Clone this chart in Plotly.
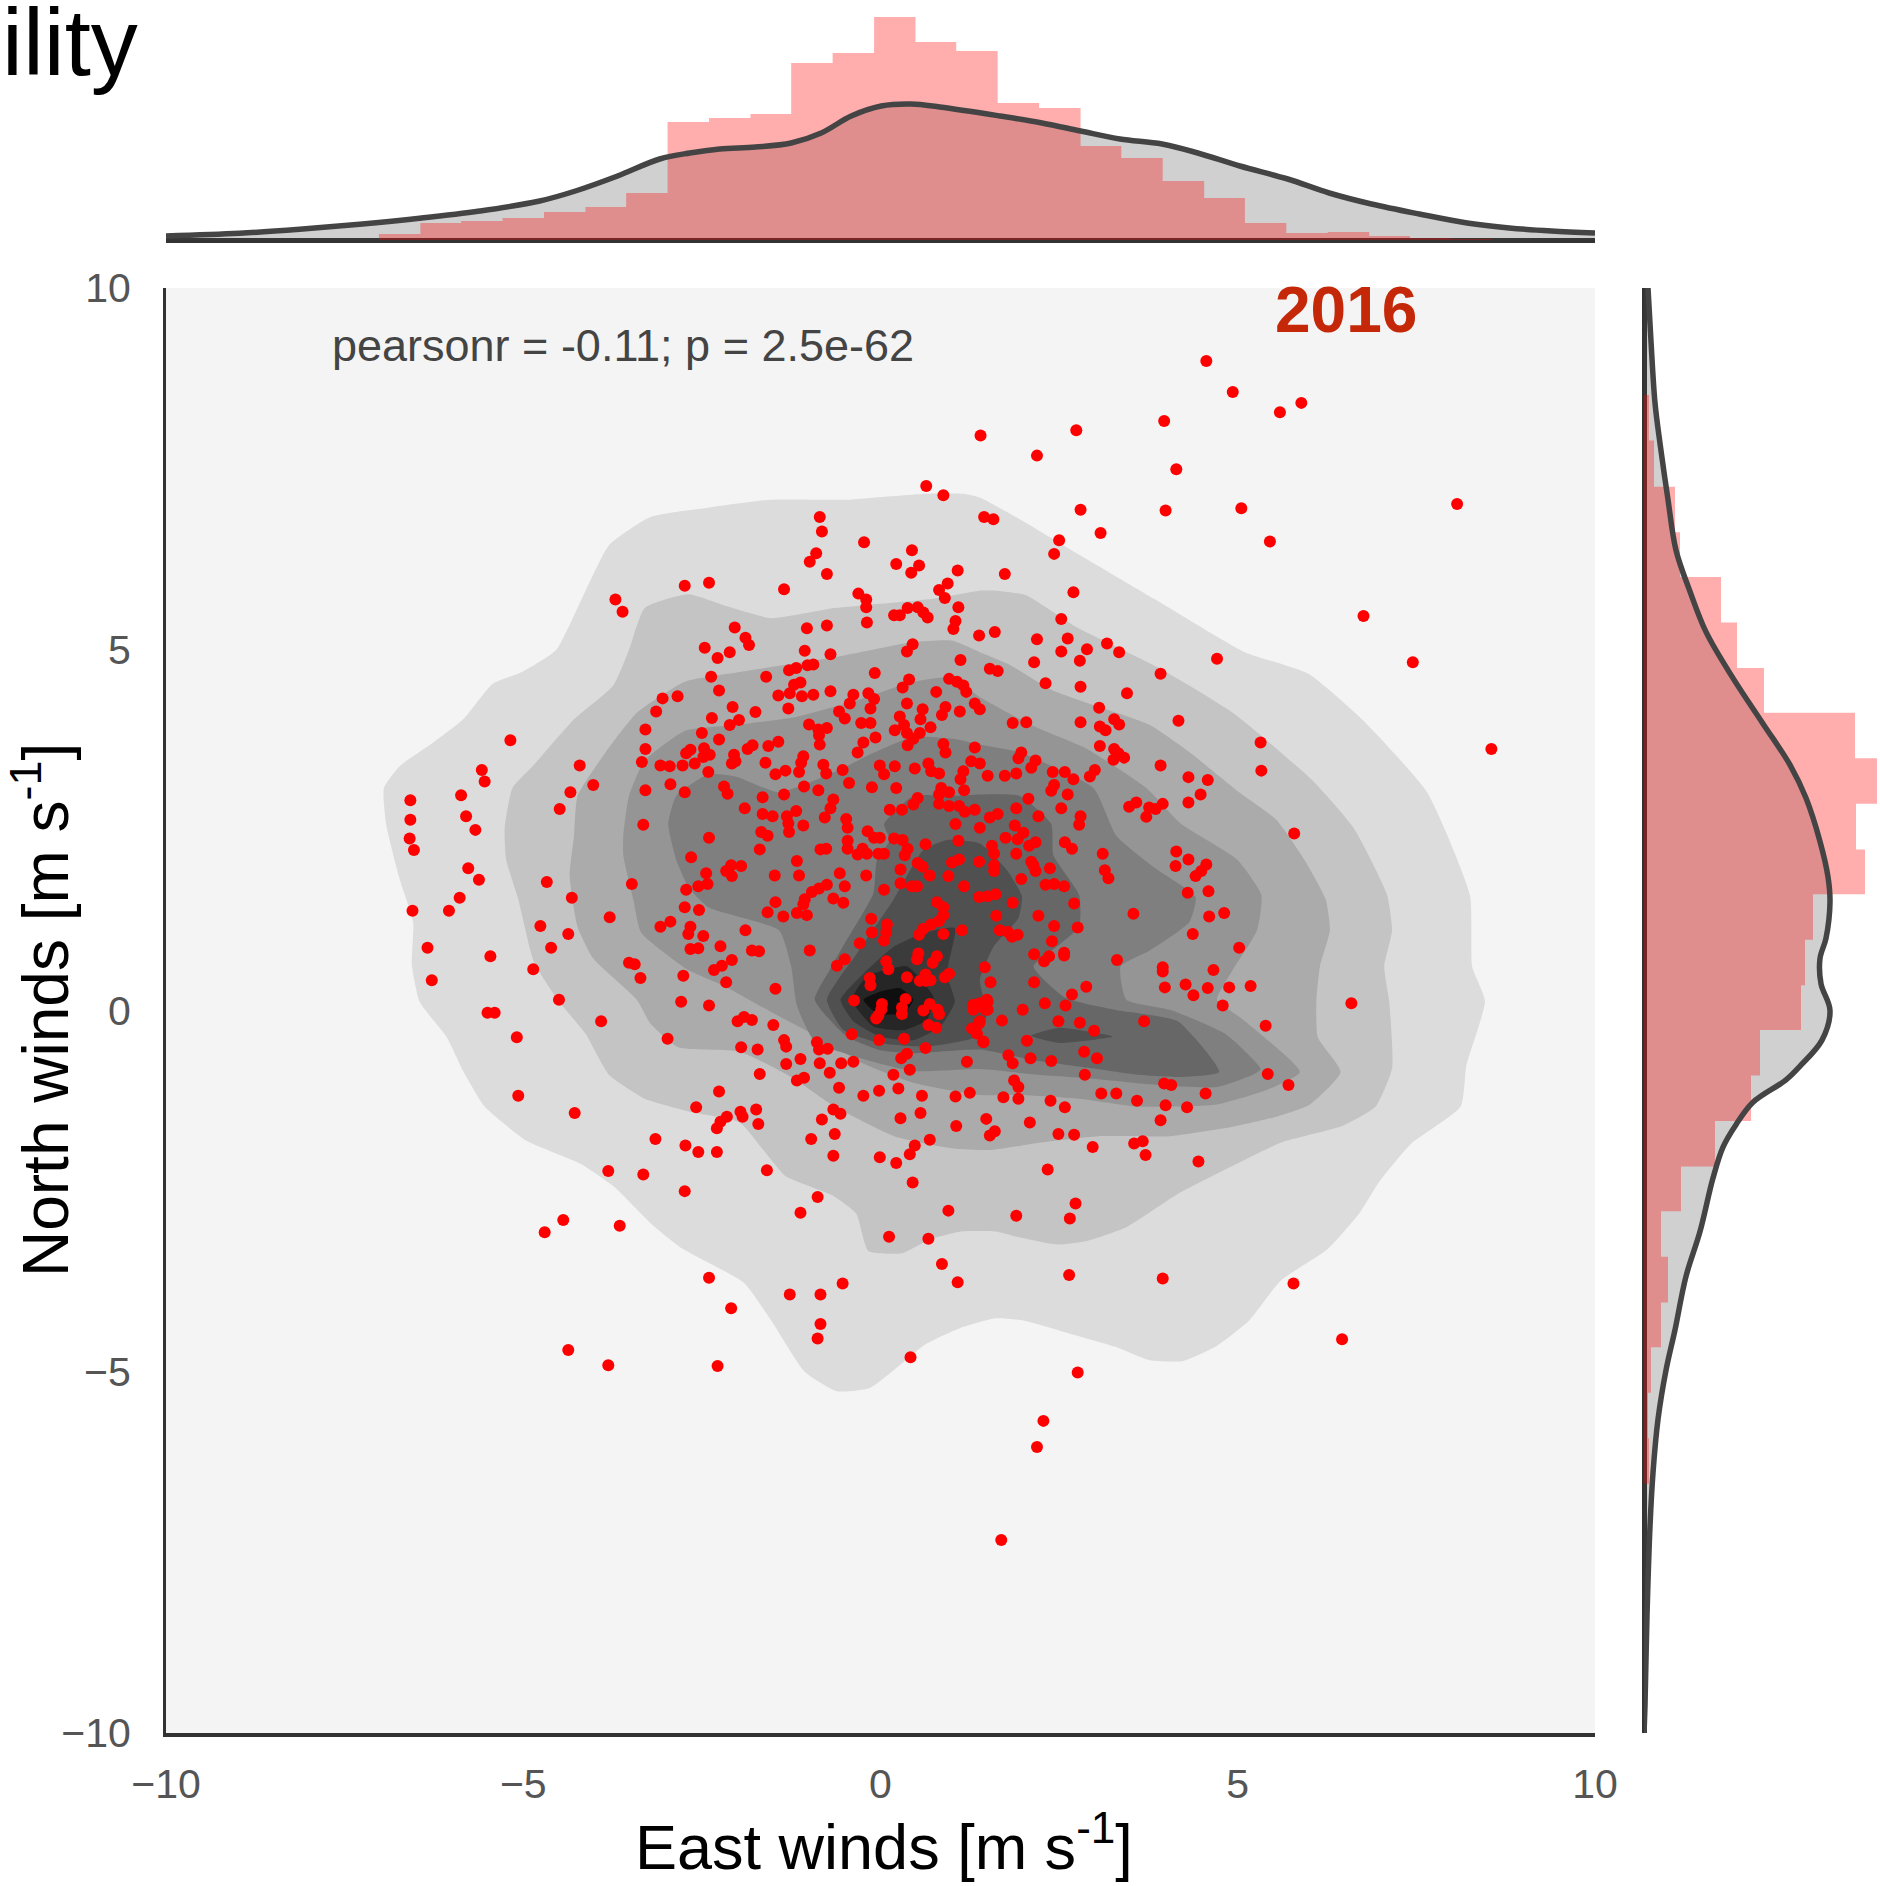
import plotly.graph_objects as go

W, H = 1880, 1886

# ------------------------- DATA -------------------------
tick_values = [-10, -5, 0, 5, 10]
tick_labels = ["\u221210", "\u22125", "0", "5", "10"]

# East / North wind samples (m/s)
wind_points = [
(0.64,7.26),(0.88,7.13),(-0.85,6.83),(-0.82,6.63),(-0.23,6.48),(0.44,6.37),(-0.90,6.33),(-0.99,6.21),(0.22,6.18),(0.54,6.16),
(0.43,6.06),(1.08,6.09),(-0.75,6.04),(0.94,5.91),(0.82,5.82),(0.90,5.71),(-1.35,5.83),(-2.40,5.92),(-2.74,5.88),(-3.71,5.69),
(-3.61,5.52),(-0.31,5.77),(-0.20,5.69),(-0.20,5.58),(1.09,5.58),(0.19,5.47),(0.38,5.57),(0.52,5.58),(0.60,5.51),(0.66,5.44),
(0.27,5.47),(-0.19,5.37),(1.05,5.39),(1.02,5.28),(-0.75,5.33),(-1.03,5.29),(-2.04,5.30),(-1.89,5.16),(-1.84,5.06),(1.38,5.19),
(0.45,5.07),(0.37,4.97),(-2.46,5.02),(-2.11,4.96),(-2.28,4.88),(-1.06,4.98),(-0.70,4.93),(1.12,4.85),(-0.94,4.79),(-1.02,4.78),
(-1.18,4.74),(-1.28,4.71),(-0.08,4.67),(-2.37,4.62),(-1.60,4.62),(0.40,4.58),(0.31,4.47),(0.96,4.59),(1.07,4.55),(1.16,4.50),
(1.20,4.41),(-1.12,4.54),(-1.21,4.51),(-2.26,4.43),(-0.70,4.42),(0.78,4.41),(-1.27,4.39),(-1.43,4.36),(-1.10,4.35),(-0.94,4.37),
(-0.17,4.39),(-0.09,4.31),(-0.38,4.37),(-0.43,4.25),(-3.05,4.32),(-2.84,4.35),(0.37,4.25),(1.32,4.25),(-0.14,4.18),(-2.07,4.20),
(-1.29,4.18),(0.91,4.20),(0.86,4.09),(1.11,4.14),(0.59,4.17),(0.56,4.03),(-0.58,4.14),(-0.50,4.04),(-3.14,4.14),(-1.75,4.13),
(0.27,4.07),(-2.36,4.05),(-1.98,4.02),(-2.11,3.95),(-0.27,3.98),(-0.14,3.98),(-1.00,3.96),(-0.75,3.91),(-0.87,3.89),(0.33,3.95),
(0.37,3.84),(0.70,3.92),(0.20,3.88),(0.55,3.84),(0.46,3.76),(0.38,3.67),(-3.29,3.89),(-2.50,3.84),(-0.07,3.78),(-2.26,3.75),
(-0.86,3.81),(-0.85,3.68),(-1.43,3.72),(-1.57,3.66),(-0.24,3.71),(-0.32,3.57),(0.88,3.69),(0.91,3.57),(1.32,3.64),(-1.79,3.67),
(-1.86,3.62),(-2.66,3.61),(-2.72,3.56),(-2.47,3.63),(-2.39,3.54),(-2.48,3.51),(-2.60,3.42),(-2.77,3.39),(-3.29,3.62),(-2.05,3.54),
(-2.03,3.45),(-2.08,3.42),(-1.08,3.52),(-1.11,3.43),(-3.34,3.44),(-3.08,3.39),(-2.95,3.38),(-1.61,3.43),(-0.80,3.40),(-0.76,3.28),
(-0.01,3.39),(0.05,3.27),(0.20,3.38),(0.48,3.35),(0.67,3.42),(0.71,3.31),(0.82,3.28),(1.16,3.31),(1.12,3.20),(1.27,3.45),
(-0.53,3.33),(-1.14,3.30),(-1.33,3.32),(-1.47,3.27),(-2.41,3.30),(-0.44,3.15),(-2.94,3.13),(-2.19,3.10),(-2.14,3.00),(-3.29,3.05),
(-2.74,3.02),(-1.07,3.10),(-0.87,3.05),(-0.12,3.09),(0.22,3.08),(0.85,3.08),(0.96,3.02),(0.82,2.99),(0.82,2.86),(0.96,2.83),
(1.17,3.05),(-1.35,2.99),(-1.65,2.95),(-0.66,2.92),(-0.70,2.80),(-0.78,2.67),(0.52,2.94),(0.46,2.85),(-1.90,2.80),(0.13,2.78),
(0.30,2.78),(1.10,2.83),(1.18,2.75),(1.32,2.78),(-1.65,2.72),(-1.51,2.69),(-1.18,2.76),(-1.31,2.69),(-1.29,2.59),(-1.28,2.47),
(-1.08,2.56),(-0.48,2.65),(-0.46,2.53),(-3.32,2.57),(1.05,2.58),(1.39,2.53),(-0.18,2.48),(-0.09,2.39),(-0.01,2.39),(-1.67,2.47),
(-1.58,2.42),(-2.40,2.39),(0.19,2.38),(0.31,2.36),(1.09,2.35),(-0.46,2.35),(-0.46,2.24),(0.63,2.30),(-0.76,2.24),(-0.84,2.23),
(0.38,2.24),(0.34,2.15),(-1.69,2.23),(-0.25,2.24),(-0.32,2.16),(-0.19,2.17),(-0.03,2.17),(0.05,2.17),(-2.65,2.12),(-1.17,2.07),
(1.10,2.09),(1.00,2.05),(1.38,2.06),(-1.95,2.00),(-2.09,2.01),(-2.16,1.93),(-2.08,1.86),(0.52,2.04),(0.59,1.99),(0.28,1.95),
(0.69,1.87),(0.95,1.86),(-2.44,1.90),(-1.48,1.87),(-1.14,1.87),(-0.57,1.90),(-0.20,1.87),(-4.67,1.78),(-3.48,1.75),(-0.50,1.72),
(0.28,1.76),(0.44,1.72),(0.51,1.72),(1.17,1.72),(-2.42,1.75),(-2.55,1.72),(-2.72,1.67),(-0.75,1.74),(-0.86,1.69),(-0.96,1.64),
(0.05,1.67),(-4.32,1.56),(-5.89,1.56),(1.38,1.57),(-1.06,1.54),(-1.08,1.47),(-0.66,1.55),(-0.52,1.49),(-1.47,1.50),(0.79,1.50),
(0.88,1.43),(0.88,1.32),(0.82,1.24),(0.71,1.19),(0.60,1.13),(0.54,1.05),(0.88,1.06),(-2.74,1.43),(-2.54,1.39),(-6.55,1.38),
(-6.04,1.38),(-1.58,1.36),(-1.36,1.30),(-1.17,1.35),(-1.03,1.32),(-3.79,1.29),(-0.13,1.27),(-2.94,1.23),(-3.08,1.16),(-4.76,1.17),
(1.14,1.11),(-2.66,1.16),(-2.69,1.06),(-1.89,1.11),(-0.12,1.08),(-4.37,1.06),(-2.48,1.03),(0.09,1.19),(0.08,1.08),(0.05,0.97),
(-0.29,0.93),(-6.34,0.87),(-4.61,0.87),(-2.66,0.85),(-2.55,0.86),(-2.24,0.89),(-1.80,0.83),(-1.70,0.82),(-0.99,0.83),(-5.46,0.75),
(0.53,0.79),(0.51,0.71),(0.79,0.75),(0.73,0.66),(0.08,0.68),(0.11,0.57),(-0.50,0.71),(-0.61,0.62),(-2.08,0.70),(-2.22,0.62),
(-2.33,0.56),(-3.52,0.66),(-3.44,0.64),(-4.86,0.57),(-3.36,0.45),(-2.76,0.48),(0.96,0.51),(0.90,0.46),(0.37,0.46),(-6.28,0.42),
(0.63,0.50),(0.63,0.41),(0.55,0.41),(0.70,0.42),(-0.15,0.45),(-0.14,0.35),(-2.16,0.39),(-1.47,0.30),(-4.50,0.15),(-2.79,0.12),
(-2.40,0.07),(-0.37,0.14),(0.35,0.16),(0.30,0.04),(0.30,-0.05),(0.02,0.09),(0.01,0.01),(-0.03,-0.07),(-0.06,-0.11),(0.69,0.09),
(0.60,0.00),(0.80,0.01),(0.82,-0.05),(-5.50,-0.03),(-5.40,-0.03),(-3.91,-0.15),(-1.91,-0.09),(-2.00,-0.15),(-1.80,-0.13),(-1.50,-0.20),
(0.67,-0.20),(0.78,-0.24),(-0.40,-0.33),(-5.09,-0.37),(-2.98,-0.39),(-0.02,-0.41),(0.33,-0.39),(-1.35,-0.41),(-1.32,-0.50),(-0.89,-0.44),
(-0.86,-0.54),(-0.74,-0.53),(-1.95,-0.51),(-1.72,-0.54),(0.63,-0.52),(0.37,-0.60),(0.29,-0.66),(-1.12,-0.67),(-1.32,-0.74),(-0.85,-0.73),
(-0.55,-0.73),(-0.38,-0.71),(1.21,-0.71),(-0.71,-0.86),(0.41,-0.82),(0.18,-0.89),(-1.69,-0.88),(-1.07,-0.93),(-1.17,-0.97),(-0.58,-1.07),
(-2.26,-1.12),(0.25,-1.08),(-0.02,-1.11),(-0.24,-1.18),(0.58,-1.18),(1.05,-1.19),(1.25,-1.14),(-5.07,-1.18),(-5.18,3.74),(-4.21,3.39),
(-5.58,3.33),(-5.54,3.17),(-4.02,3.12),(-4.34,3.02),(-6.58,2.91),(-5.87,2.98),(-4.49,2.79),(-6.58,2.64),(-5.80,2.69),(-5.67,2.50),
(-6.59,2.38),(-6.53,2.22),(-5.77,1.97),(-5.62,1.81),
(1.45,6.83),(1.58,6.80),(2.80,6.93),(3.99,6.92),(5.05,6.95),(8.07,7.01),(3.08,6.61),(5.45,6.49),(2.50,6.51),(2.43,6.32),
(1.74,6.04),(2.70,5.79),(6.76,5.46),(2.53,5.42),(4.71,4.87),(7.45,4.82),(1.60,5.24),(2.19,5.14),(2.62,5.15),(2.53,4.97),
(2.89,5.00),(3.17,5.08),(3.34,4.96),(2.15,4.82),(2.79,4.84),(3.92,4.66),(1.53,4.73),(1.64,4.70),(2.31,4.53),(2.80,4.48),
(3.45,4.39),(3.06,4.19),(4.17,4.01),(1.85,3.98),(2.04,3.99),(2.80,3.99),(3.27,4.03),(3.34,3.96),(3.07,3.93),(3.15,3.88),
(1.39,4.17),(5.32,3.71),(5.33,3.32),(3.07,3.66),(3.27,3.62),(3.33,3.56),(3.41,3.50),(3.26,3.47),(1.97,3.57),(1.93,3.49),
(2.17,3.46),(2.11,3.36),(3.92,3.39),(1.39,3.42),(1.50,3.25),(1.74,3.25),(1.90,3.28),(2.41,3.30),(2.58,3.30),(2.70,3.20),
(3.00,3.33),(2.93,3.24),(4.31,3.23),(4.58,3.19),(2.43,3.12),(2.39,3.04),(2.62,2.99),(2.07,2.93),(4.48,2.99),(4.31,2.88),
(3.58,2.88),(3.48,2.82),(3.76,2.81),(3.95,2.86),(3.85,2.79),(3.72,2.68),(1.90,2.80),(2.53,2.80),(1.64,2.72),(1.53,2.67),
(2.21,2.69),(2.80,2.69),(2.78,2.57),(5.79,2.45),(1.88,2.56),(2.00,2.46),(1.75,2.39),(1.92,2.37),(2.17,2.33),(2.08,2.28),
(2.58,2.33),(2.68,2.24),(1.56,2.28),(1.59,2.17),(1.90,2.17),(3.11,2.17),(4.14,2.20),(4.31,2.09),(4.13,2.00),(4.56,2.02),
(4.49,1.93),(4.41,1.86),(2.11,2.06),(2.14,2.01),(2.17,1.93),(1.59,2.01),(1.59,1.93),(2.37,1.97),(3.14,1.94),(3.19,1.83),
(1.97,1.82),(2.31,1.74),(2.43,1.75),(2.57,1.72),(4.30,1.63),(4.59,1.65),(1.61,1.61),(1.50,1.58),(2.71,1.48),(1.85,1.49),
(3.54,1.34),(4.81,1.35),(4.60,1.30),(1.62,1.31),(2.21,1.31),(2.43,1.17),(2.76,1.15),(4.37,1.06),(1.67,1.11),(1.78,1.09),
(1.92,1.05),(1.84,1.02),(2.40,0.96),(5.02,0.87),(2.15,0.78),(2.36,0.75),(2.29,0.68),(2.57,0.80),(2.57,0.76),(3.31,0.70),
(3.95,0.60),(3.95,0.54),(1.46,0.60),(4.66,0.56),(1.54,0.39),(2.15,0.39),(2.88,0.33),(3.98,0.32),(4.27,0.36),(4.38,0.21),
(4.58,0.31),(4.88,0.32),(5.18,0.34),(2.68,0.22),(4.79,0.07),(6.59,0.10),(1.50,0.12),(1.47,0.01),(1.99,0.01),(2.30,0.10),
(2.59,0.07),(1.70,-0.14),(2.49,-0.15),(2.79,-0.17),(2.99,-0.28),(3.69,-0.15),(5.39,-0.21),(1.39,-0.15),(2.05,-0.42),(1.44,-0.43),
(1.79,-0.62),(1.85,-0.73),(2.10,-0.66),(2.39,-0.70),(2.85,-0.57),(3.03,-0.66),(2.86,-0.89),(5.42,-0.88),(5.71,-1.03),(1.87,-0.97),
(1.93,-1.06),(3.97,-1.01),(4.07,-1.03),(3.09,-1.15),(3.30,-1.15),(1.72,-1.20),(1.93,-1.22),(2.38,-1.25),(3.59,-1.25),(4.55,-1.15),
(8.55,3.62),
(1.30,0.08),(1.30,0.01),(1.49,0.15),(1.50,0.01),(1.39,0.10),(1.38,-0.18),(1.28,-0.25),(1.35,-0.32),(1.44,-0.44),
(-4.28,-1.42),(-2.58,-1.34),(-1.74,-1.37),(-1.96,-1.40),(-1.93,-1.47),(-1.71,-1.57),(-2.15,-1.47),(-2.24,-1.54),(-2.29,-1.63),(-0.82,-1.51),
(-0.66,-1.37),(-0.56,-1.43),(-0.64,-1.71),(-0.97,-1.78),(-3.15,-1.78),(-2.73,-1.87),(-2.55,-1.96),(-2.29,-1.96),(-0.66,-2.01),(-0.01,-2.03),
(0.22,-2.11),(0.41,-1.99),(0.48,-1.87),(0.69,-1.79),(0.28,-1.49),(0.56,-1.42),(1.06,-1.60),(-1.59,-2.21),(-3.81,-2.22),(-3.32,-2.27),
(-2.74,-2.50),(0.45,-2.38),(-0.88,-2.58),(-1.12,-2.80),(0.95,-2.77),(0.12,-3.13),(0.67,-3.16),(-4.44,-2.90),(-4.70,-3.07),(-3.65,-2.98),
(0.86,-3.51),(1.08,-3.76),(-2.40,-3.70),(-0.53,-3.78),(-1.27,-3.93),(-0.84,-3.93),(-2.09,-4.12),(-0.84,-4.34),(-0.88,-4.54),(-4.37,-4.70),
(-3.81,-4.91),(-2.28,-4.92),(0.42,-4.80),
(2.58,-1.34),(3.99,-1.31),(4.29,-1.34),(3.92,-1.52),(1.48,-1.50),(2.09,-1.55),(1.53,-1.73),(1.60,-1.67),(2.49,-1.71),(2.71,-1.72),
(2.97,-1.89),(3.55,-1.84),(3.67,-1.81),(3.71,-2.00),(4.45,-2.09),(2.34,-2.20),(2.73,-2.67),(1.90,-2.84),(2.65,-2.88),(2.64,-3.66),
(3.95,-3.71),(5.78,-3.78),(6.46,-4.55),(2.76,-5.01),(2.28,-5.68),(2.19,-6.04),(1.69,-7.33),
(4.56,8.99),(4.93,8.56),(5.89,8.41),(5.59,8.28),(2.74,8.03),(1.40,7.96),(3.97,8.16),(2.19,7.68),(4.14,7.49),
]

# Density contour outlines, outermost first
level_1 = [(-6.95,3.08),(-6.73,3.38),(-6.23,3.73),(-5.84,4.03),(-5.43,4.52),(-5.01,4.69),(-4.54,4.99),(-4.18,5.70),(-3.80,6.44),(-3.22,6.83),
(-2.41,6.96),(-1.53,7.07),(-0.48,7.07),(0.58,7.15),(1.18,7.15),(1.39,7.10),(1.95,6.80),(2.61,6.41),(3.83,5.70),(5.10,4.96),(5.99,4.66),
(6.76,4.01),(7.65,3.02),(8.25,1.60),(8.28,0.61),(8.46,0.13),(8.20,-0.76),(8.12,-1.33),(7.42,-1.85),(6.98,-2.37),(6.70,-2.81),(6.26,-3.30),
(5.60,-3.74),(5.16,-4.29),(4.71,-4.64),(4.24,-4.85),(3.77,-4.84),(3.33,-4.67),(2.78,-4.51),(2.00,-4.29),(1.61,-4.26),(1.10,-4.40),(0.63,-4.62),
(-0.14,-5.22),(-0.61,-5.27),(-1.06,-5.00),(-1.53,-4.29),(-1.91,-3.77),(-2.80,-3.28),(-3.19,-2.97),(-3.74,-2.43),(-4.18,-2.13),(-4.96,-1.80),
(-5.54,-1.33),(-5.84,-0.84),(-6.07,-0.37),(-6.45,0.12),(-6.56,0.64),(-6.54,1.22),(-6.73,1.82),(-6.92,2.58)]
level_2 = [(-5.26,2.53),(-5.15,3.08),(-4.85,3.40),(-4.29,4.03),(-3.74,4.50),(-3.52,4.99),(-3.30,5.57),(-2.69,5.76),(-2.14,5.59),(-1.53,5.43),
(-0.64,5.57),(0.74,5.70),(1.39,5.81),(1.61,5.81),(2.03,5.75),(2.72,5.32),(3.88,4.75),(4.93,4.12),(6.04,3.19),(6.62,2.53),(7.09,1.60),(7.16,1.11),
(7.05,0.61),(7.12,0.12),(7.16,-0.80),(6.93,-1.33),(6.46,-1.60),(5.60,-1.83),(4.93,-2.15),(4.16,-2.54),(3.44,-3.00),(2.89,-3.19),(2.47,-3.24),
(1.94,-3.14),(1.61,-3.06),(1.13,-3.06),(0.69,-3.17),(0.30,-3.36),(-0.17,-3.33),(-0.34,-2.81),(-0.67,-2.56),(-1.33,-2.29),(-1.64,-1.93),(-1.97,-1.55),
(-2.63,-1.41),(-3.30,-1.22),(-3.80,-0.89),(-4.13,-0.32),(-4.52,0.15),(-4.85,0.67),(-5.07,1.54),(-5.24,2.09)]
level_3 = [(-4.29,2.42),(-4.24,2.97),(-3.85,3.57),(-3.41,4.12),(-2.74,4.55),(-2.14,4.66),(-1.42,4.77),(-0.53,4.91),(0.46,5.10),(1.00,5.12),(1.39,4.96),
(1.78,4.80),(2.39,4.44),(3.00,4.22),(3.77,3.95),(4.33,3.57),(5.02,3.02),(5.54,2.64),(5.93,2.09),(6.23,1.54),(6.29,1.11),(6.15,0.61),(6.10,0.12),
(6.12,-0.37),(6.44,-0.85),(6.01,-1.30),(5.54,-1.47),(4.93,-1.61),(4.05,-1.74),(3.05,-1.74),(2.22,-1.83),(1.56,-1.93),(1.02,-1.91),(0.19,-1.74),
(-0.64,-1.33),(-1.25,-0.92),(-1.97,-0.57),(-2.83,-0.51),(-3.22,-0.18),(-3.41,0.15),(-4.02,0.72),(-4.24,1.16),(-4.35,1.87)]
level_4 = [(-3.60,2.15),(-3.60,2.42),(-3.52,2.97),(-3.30,3.46),(-2.74,3.87),(-2.03,3.95),(-1.20,4.06),(-0.37,4.28),(0.46,4.55),(1.00,4.61),(1.39,4.34),
(2.11,3.95),(2.89,3.62),(3.72,3.08),(4.21,2.58),(4.99,2.09),(5.33,1.60),(5.27,1.11),(4.93,0.56),(4.71,0.15),(5.04,-0.10),(5.87,-0.85),(5.43,-1.09),
(4.71,-1.30),(3.60,-1.33),(2.78,-1.22),(1.94,-1.17),(1.39,-1.17),(0.46,-1.00),(-0.25,-0.73),(-0.81,-0.40),(-1.53,-0.02),(-2.19,0.34),(-2.69,0.56),
(-3.35,1.08),(-3.46,1.54)]
level_5 = [(-2.97,2.58),(-2.86,2.97),(-2.41,3.27),(-2.03,3.24),(-1.42,3.02),(-0.64,3.30),(-0.09,3.57),(0.46,3.79),(1.02,3.76),(1.39,3.68),(1.95,3.57),
(2.98,3.08),(3.30,2.42),(3.83,1.98),(4.41,1.57),(4.32,1.22),(3.77,0.83),(3.36,0.61),(3.44,0.15),(4.05,0.01),(4.82,-0.32),(5.32,-0.81),(5.21,-0.89),
(4.71,-1.06),(3.88,-1.03),(3.05,-0.95),(2.22,-0.89),(1.39,-0.81),(0.46,-0.84),(-0.14,-0.70),(-0.92,-0.43),(-1.17,0.07),(-1.25,0.61),(-1.42,1.11),
(-2.41,1.43),(-2.69,1.71),(-2.86,2.09)]
level_6 = [(0.05,2.58),(0.46,2.97),(1.02,2.97),(1.39,2.99),(1.95,2.97),(2.39,2.58),(2.42,2.15),(2.78,1.60),(2.78,1.16),(2.50,0.91),(2.14,0.61),(2.58,0.18),
(3.27,0.01),(4.16,-0.15),(4.74,-0.85),(4.16,-0.92),(3.60,-0.89),(2.89,-0.79),(2.11,-0.68),(1.39,-0.54),(0.46,-0.59),(0.00,-0.55),(-0.47,-0.36),(-0.92,0.15),
(-0.71,0.56),(-0.50,0.93),(-0.10,1.62),(-0.05,2.08),(0.13,2.36)]
level_7 = [(-0.75,0.15),(-0.52,-0.27),(-0.01,-0.45),(0.65,-0.50),(1.35,-0.36),(1.49,-0.04),(1.39,0.42),(1.58,0.88),(1.93,1.28),(1.98,1.58),(1.77,1.94),
(1.39,2.31),(0.93,2.36),(0.60,2.22),(0.18,1.53),(-0.33,0.79)]
level_7b = [(2.11,-0.35),(2.50,-0.24),(3.25,-0.36),(2.50,-0.45)]
level_8 = [(-0.56,0.15),(-0.24,0.51),(0.18,0.88),(0.60,1.07),(1.04,1.14),(0.93,0.51),(1.04,0.12),(0.84,-0.22),(0.46,-0.41),(-0.01,-0.36),(-0.38,-0.15)]
level_9 = [(-0.40,0.15),(-0.19,0.47),(0.37,0.61),(0.74,0.19),(0.65,-0.13),(0.32,-0.27),(-0.10,-0.22)]
level_10 = [(-0.24,0.15),(-0.01,0.26),(0.27,0.31),(0.46,0.15),(0.32,-0.04),(-0.05,-0.04)]
contour_levels = [level_1, level_2, level_3, level_4, level_5, level_6, level_7, level_7b, level_8, level_9, level_10]
contour_colors = ["#dcdcdc", "#c4c4c4", "#ababab", "#959595", "#7f7f7f", "#676767", "#505050", "#505050", "#3b3b3b", "#262626", "#0f0f0f"]

# Top marginal: histogram for 2016 and density curve
east_edges = [-7.02,-6.44,-5.87,-5.29,-4.71,-4.13,-3.56,-2.98,-2.40,-1.82,-1.25,-0.67,-0.09,0.49,1.06,1.64,2.22,2.80,3.37,3.95,4.53,5.10,5.68,6.26,6.84,7.41,7.99,8.55]
east_hist = [6,17,19,22,28,33,47,118,122,126,177,187,223,198,189,137,132,94,82,59,42,17,7,8,4,2,1]
east_kde_x = [-10,-8.97,-8.13,-7.29,-6.45,-5.61,-4.77,-4.27,-3.68,-3.09,-2.67,-2.25,-1.75,-1.25,-0.83,-0.41,0.01,0.43,0.83,1.67,2.26,2.80,3.35,3.94,4.44,5.03,5.70,6.28,6.87,7.54,8.21,8.80,9.39,10]
east_kde = [4,6.7,10.7,15.7,21.7,29,39,49,64,81,87,91,93,97,107,124,134,136,133,124,117,109,101,96,87,74,61,47,36,26,17,12,9,7]

# Right marginal
north_edges = [8.52,7.89,7.25,6.62,6.00,5.37,4.74,4.12,3.49,2.86,2.23,1.61,0.98,0.35,-0.27,-0.90,-1.53,-2.16,-2.78,-3.41,-4.04,-4.66,-5.29,-5.92,-6.55]
north_hist = [5,10,31,36,77,93,120,211,233,212,221,169,161,157,116,107,71,37,17,24,17,7,4,5]
north_kde_y = [10,9.26,8.41,7.85,7.07,6.37,5.80,5.24,4.60,3.97,3.40,2.94,2.34,1.85,1.50,1.00,0.72,0.37,0.0,-0.41,-0.77,-0.96,-1.27,-1.58,-1.89,-2.32,-3.06,-3.68,-4.42,-4.98,-5.66,-6.40,-7.14,-8.38,-9.62,-10]
north_kde = [4,7,11,16,24,32,46,62,89,119,146,162,176,184,186,182,176,177,186,178,156,142,109,92,79,69,56,42,31,22,14,9,6,3,1,0]

# ------------------------- STYLE / LAYOUT -------------------------
def fx(p): return p / W
def fy(p): return 1 - p / H

def steps(edges, heights):
    pos, val = [edges[0]], [0]
    for i, h in enumerate(heights):
        pos += [edges[i], edges[i + 1]]
        val += [h, h]
    pos.append(edges[-1]); val.append(0)
    return pos, val

fig = go.Figure()

for poly, col in zip(contour_levels, contour_colors):
    fig.add_trace(go.Scatter(x=[p[0] for p in poly] + [poly[0][0]], y=[p[1] for p in poly] + [poly[0][1]],
                             mode="lines", fill="toself", fillcolor=col,
                             line=dict(width=0, color=col, shape="spline", smoothing=0.5),
                             hoverinfo="skip", xaxis="x", yaxis="y", showlegend=False))
fig.add_trace(go.Scatter(x=[p[0] for p in wind_points], y=[p[1] for p in wind_points], mode="markers",
                         marker=dict(color="#ff0000", size=12, line=dict(width=0)),
                         xaxis="x", yaxis="y", showlegend=False))

GREY = "rgba(68,68,68,0.25)"
RED = "rgba(255,0,0,0.32)"
LINE = "#444444"

fig.add_trace(go.Scatter(x=east_kde_x, y=east_kde, mode="lines", fill="tozeroy", fillcolor=GREY, line=dict(width=0, shape="spline"),
                         xaxis="x2", yaxis="y2", showlegend=False))
px_, py_ = steps(east_edges, east_hist)
fig.add_trace(go.Scatter(x=px_, y=py_, mode="lines", fill="tozeroy", fillcolor=RED, line=dict(width=0),
                         xaxis="x2", yaxis="y2", showlegend=False))
fig.add_trace(go.Scatter(x=east_kde_x, y=east_kde, mode="lines", line=dict(color=LINE, width=5.5, shape="spline"),
                         xaxis="x2", yaxis="y2", showlegend=False))

fig.add_trace(go.Scatter(x=north_kde, y=north_kde_y, mode="lines", fill="tozerox", fillcolor=GREY, line=dict(width=0, shape="spline"),
                         xaxis="x3", yaxis="y3", showlegend=False))
py2, px2 = steps(north_edges, north_hist)
fig.add_trace(go.Scatter(x=px2, y=py2, mode="lines", fill="tozerox", fillcolor=RED, line=dict(width=0),
                         xaxis="x3", yaxis="y3", showlegend=False))
fig.add_trace(go.Scatter(x=north_kde, y=north_kde_y, mode="lines", line=dict(color=LINE, width=5.5, shape="spline"),
                         xaxis="x3", yaxis="y3", showlegend=False))

TICK = dict(family="Liberation Sans", size=41, color="#555555")
AX = "#333333"
fig.update_layout(
    template="none",
    width=W, height=H, margin=dict(l=0, r=0, t=0, b=0, pad=0, autoexpand=False), paper_bgcolor="#ffffff", plot_bgcolor="#ffffff",
    showlegend=False,
    xaxis=dict(domain=[fx(166), fx(1595)], range=[-10, 10], tickvals=tick_values, ticktext=tick_labels, tickfont=TICK,
               showgrid=False, zeroline=False, showline=True, linecolor=AX, linewidth=4, ticks="", ticklabelstandoff=12, anchor="y", automargin=False),
    yaxis=dict(domain=[fy(1733), fy(288)], range=[-10, 10], tickvals=tick_values, ticktext=tick_labels, tickfont=TICK,
               showgrid=False, zeroline=False, showline=True, linecolor=AX, linewidth=3, ticks="", ticklabelstandoff=24, anchor="x", automargin=False),
    xaxis2=dict(domain=[fx(166), fx(1595)], range=[-10, 10], visible=False, anchor="y2"),
    yaxis2=dict(domain=[fy(240), 1], range=[0, 240], showgrid=False, zeroline=True, zerolinecolor=AX, zerolinewidth=5,
                showticklabels=False, showline=False, ticks="", anchor="x2"),
    xaxis3=dict(domain=[fx(1644), 1], range=[0, 236], showgrid=False, zeroline=True, zerolinecolor=AX, zerolinewidth=5,
                showticklabels=False, showline=False, ticks="", anchor="y3"),
    yaxis3=dict(domain=[fy(1733), fy(288)], range=[-10, 10], visible=False, anchor="x3"),
    shapes=[dict(type="rect", xref="x", yref="y", x0=-10, x1=10, y0=-10, y1=10, fillcolor="#f4f4f4",
                 line=dict(width=0), layer="below")],
)

def note(text, x, y, size, color="#000000", xanchor="center", yanchor="middle", angle=0, xref="paper", yref="paper", weight=None):
    fig.add_annotation(text=text, x=x, y=y, xref=xref, yref=yref,
                       showarrow=False, xanchor=xanchor, yanchor=yanchor, textangle=angle,
                       font=dict(family="Liberation Sans", size=size, color=color, weight=weight))

note("ility", fx(0), fy(42), 94, xanchor="left")
note("pearsonr = -0.11; p = 2.5e-62", -7.71, 9.20, 45, color="#444444", xanchor="left", xref="x", yref="y")
note("2016", 6.52, 9.70, 64, color="#c42808", xref="x", yref="y", weight="bold")
note("East winds [m s<sup>-1</sup>]", fx(884), fy(1842), 63)
note("North winds [m s<sup>-1</sup>]", fx(41), fy(1010), 64, angle=-90)

fig.write_html("out.html", config={"displayModeBar": False}, post_script="document.body.style.margin='0';")
